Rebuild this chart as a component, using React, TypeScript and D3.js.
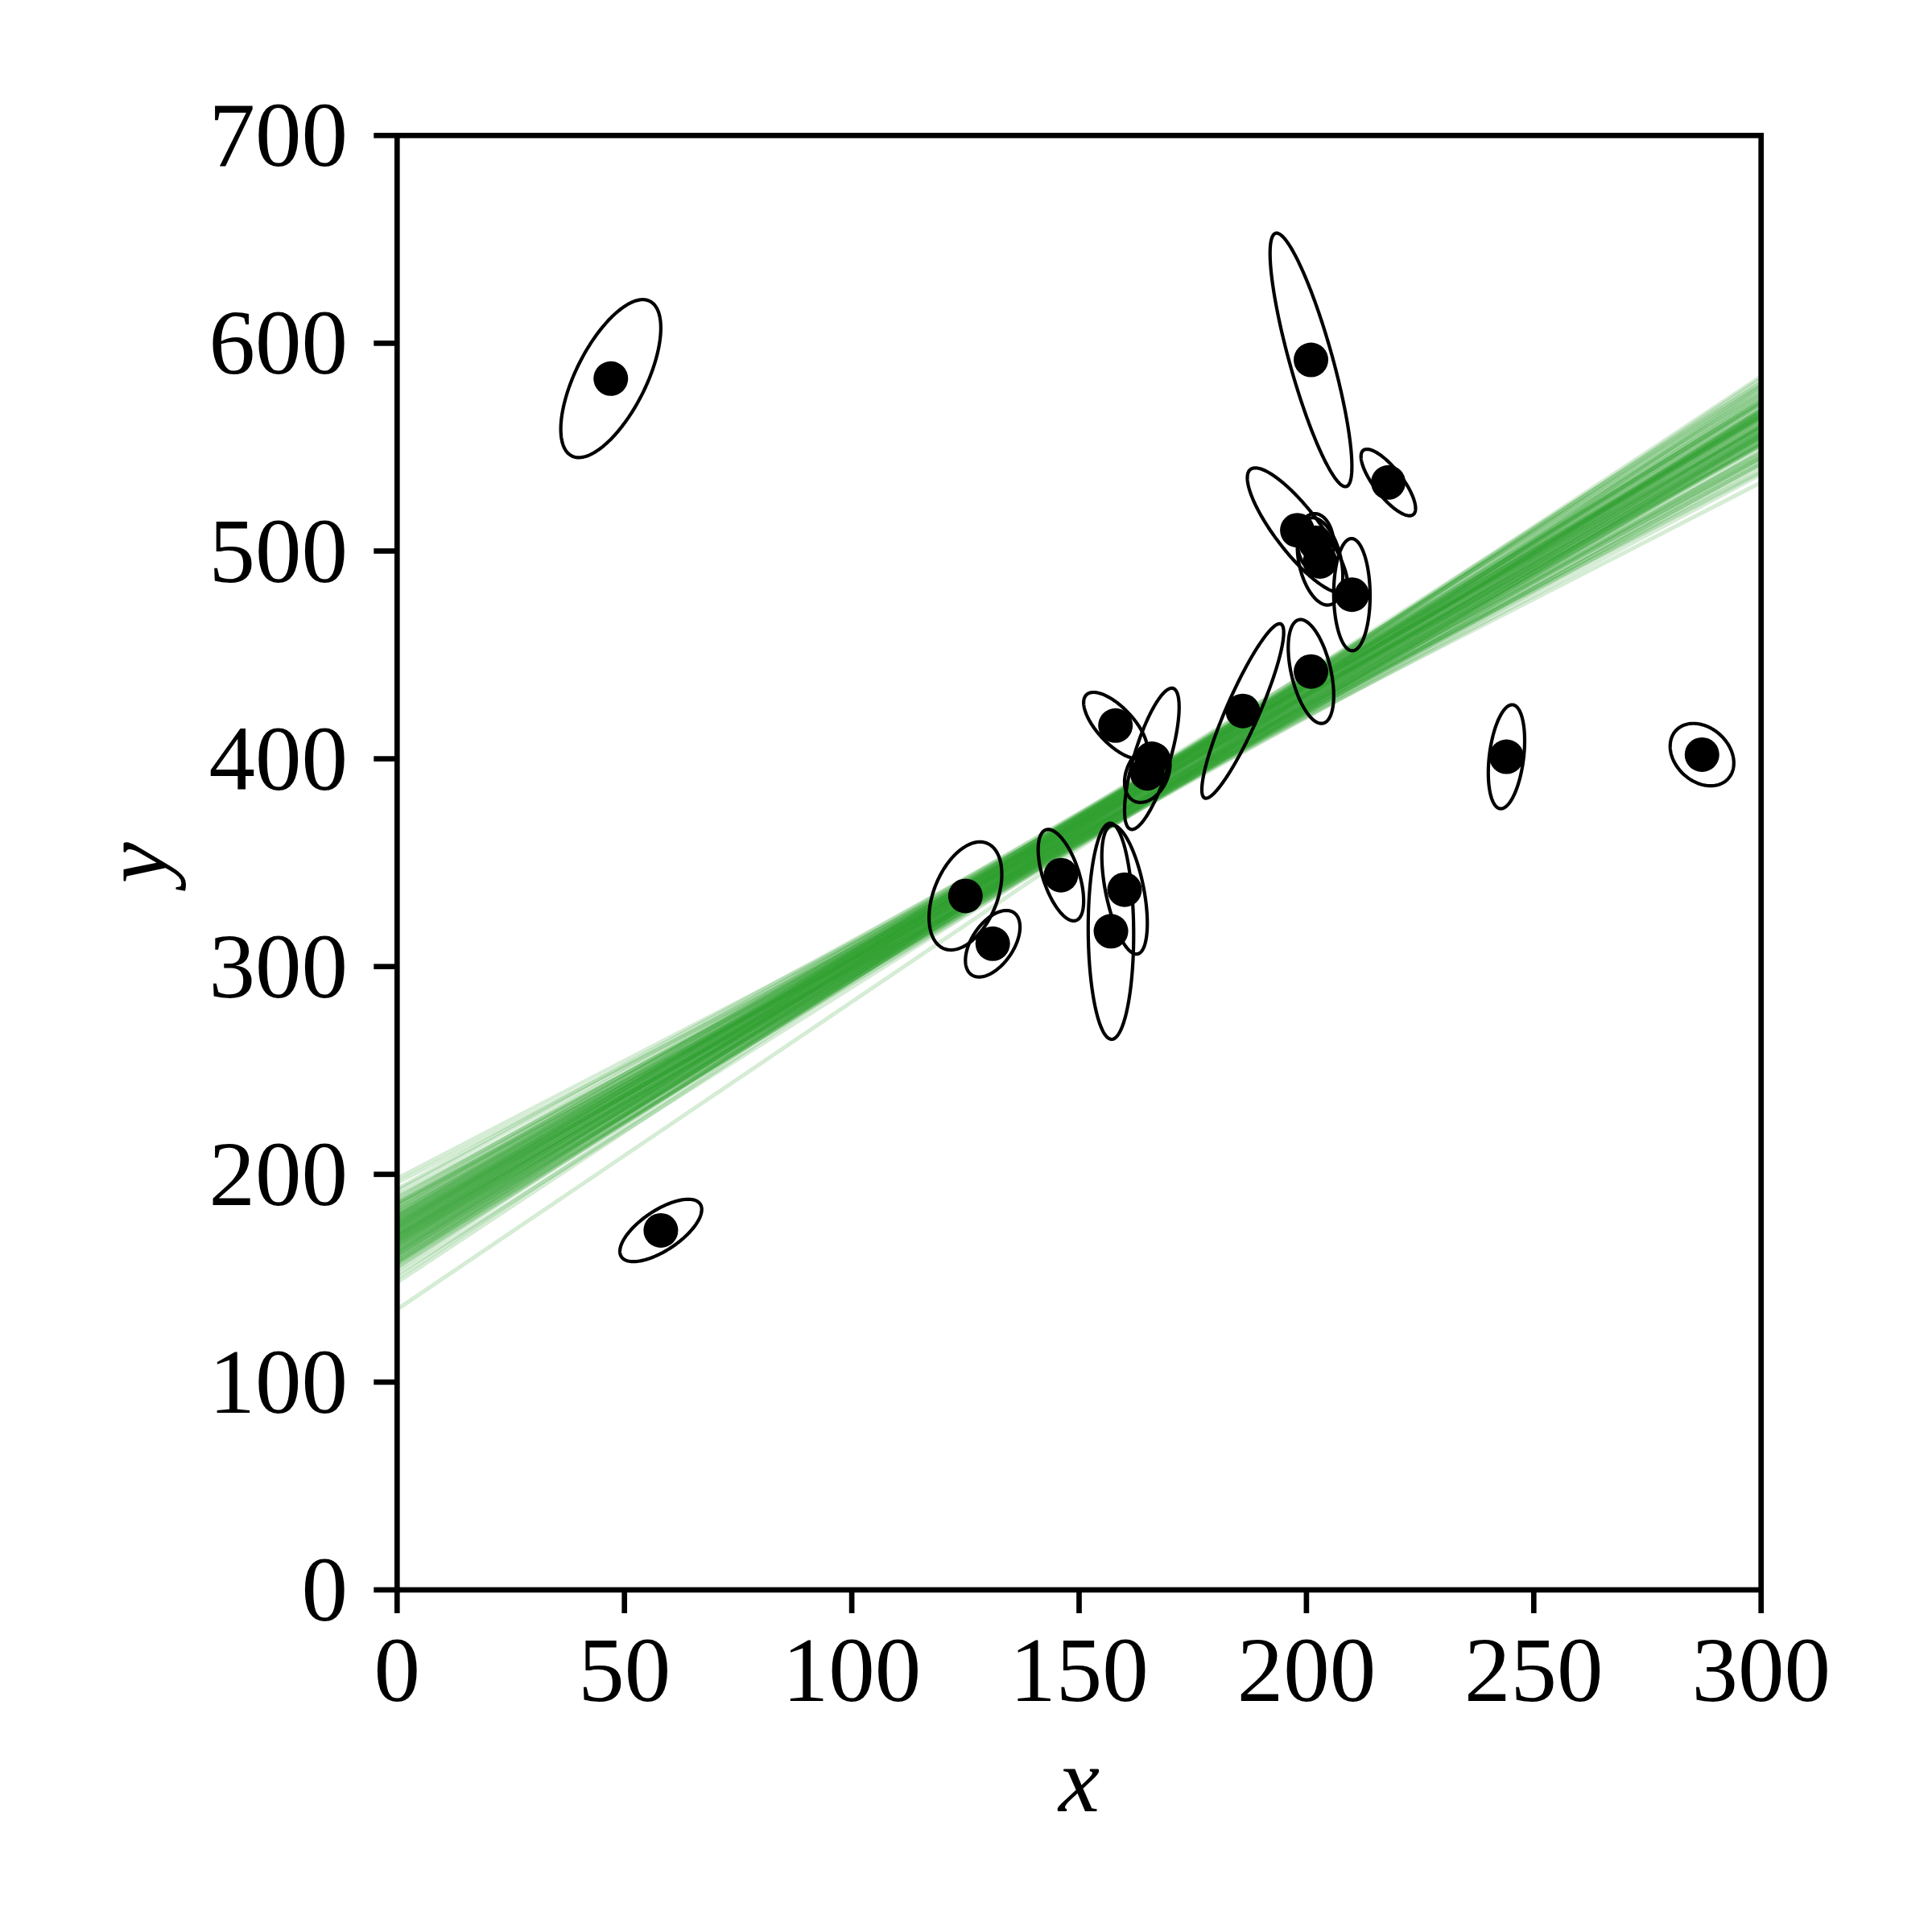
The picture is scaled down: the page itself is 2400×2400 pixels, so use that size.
import React from 'react';
import * as d3 from 'd3';

// Data points (x, y) with uncertainties
const pointX = [201, 244, 47, 287, 203, 58, 210, 202, 198, 158, 165, 201, 157, 131, 166, 160, 186, 125, 218, 146];
const pointY = [592, 401, 583, 402, 495, 173, 479, 504, 510, 416, 393, 442, 317, 311, 400, 337, 423, 334, 533, 344];
const sigmaY = [61, 25, 38, 15, 21, 15, 27, 14, 30, 16, 14, 25, 52, 16, 34, 31, 42, 26, 16, 22];
const sigmaX = [9, 4, 11, 7, 5, 9, 4, 4, 11, 7, 5, 5, 5, 6, 6, 5, 9, 8, 6, 5];
const rhoXY = [-0.84, 0.31, 0.64, -0.27, -0.33, 0.67, -0.02, -0.05, -0.84, -0.69, 0.30, -0.46, -0.03, 0.50, 0.73, -0.52, 0.90, 0.40, -0.78, -0.56];

// Sampled lines: value at x = 0 and at x = 300
const lineAt0 = [
  172, 165, 180, 158, 176, 169, 185, 162, 174, 190, 168, 177, 155, 171, 183, 166, 179, 160, 173, 188,
  170, 164, 181, 157, 175, 167, 186, 161, 178, 193, 163, 174, 152, 170, 184, 168, 176, 159, 182, 196,
  171, 166, 179, 150, 173, 187, 164, 177, 162, 169, 181, 158, 175, 189, 167, 172, 154, 178, 185, 163,
  176, 170, 198, 160, 174, 183, 165, 171, 180, 156, 168, 177, 186, 161, 173, 148, 179, 166, 170, 135,
  169, 175, 163, 181, 158, 172, 186, 167, 178, 160, 174, 192, 165, 171, 183, 157, 176, 168, 180, 162,
];
const lineAt300 = [
  568, 555, 566, 564, 545, 572, 555, 581, 555, 539, 549, 565, 574, 576, 542, 567, 562, 556, 560, 559,
  554, 572, 551, 580, 571, 555, 537, 566, 541, 551, 555, 570, 566, 565, 560, 575, 557, 574, 547, 533,
  556, 578, 544, 584, 565, 552, 553, 559, 563, 561, 564, 561, 551, 545, 571, 548, 577, 557, 542, 576,
  564, 551, 538, 571, 557, 565, 560, 567, 546, 568, 565, 543, 559, 579, 553, 583, 557, 557, 573, 579,
  556, 563, 568, 561, 581, 563, 545, 552, 565, 567, 568, 547, 572, 552, 554, 567, 569, 560, 558, 559,
];

const xTicks = [0, 50, 100, 150, 200, 250, 300];
const yTicks = [0, 100, 200, 300, 400, 500, 600, 700];

const W = 2400;
const H = 2400;
const left = 493.3;
const right = 2187.7;
const top = 168.3;
const bottom = 1975;
const FONT = "'Liberation Serif', 'DejaVu Serif', serif";

export default function App() {
  const x = d3.scaleLinear().domain([0, 300]).range([left, right]);
  const y = d3.scaleLinear().domain([0, 700]).range([bottom, top]);

  const linePath = d3
    .line<[number, number]>()
    .x((d) => x(d[0]))
    .y((d) => y(d[1]));

  const ellipsePath = d3
    .line<[number, number]>()
    .x((d) => x(d[0]))
    .y((d) => y(d[1]))
    .curve(d3.curveLinearClosed);

  const ellipses = pointX.map((mx, i) => {
    const sx = sigmaX[i];
    const sy = sigmaY[i];
    const r = rhoXY[i];
    const pts: [number, number][] = d3.range(240).map((k) => {
      const t = (k / 240) * 2 * Math.PI;
      const c = Math.cos(t);
      const s = Math.sin(t);
      return [mx + sx * c, pointY[i] + sy * (r * c + Math.sqrt(1 - r * r) * s)];
    });
    return ellipsePath(pts) as string;
  });

  const tickLen = 29;
  const spineW = 6.67;

  return (
    <svg
      width={W}
      height={H}
      viewBox={`0 0 ${W} ${H}`}
      style={{ position: 'absolute', left: 0, top: 0, display: 'block', background: '#fff' }}
    >
      <rect x={0} y={0} width={W} height={H} fill="#fff" />
      <defs>
        <clipPath id="plotclip">
          <rect x={left} y={top} width={right - left} height={bottom - top} />
        </clipPath>
      </defs>
      <g clipPath="url(#plotclip)">
        {lineAt0.map((b, i) => (
          <path
            key={`l${i}`}
            d={linePath([
              [0, b],
              [300, lineAt300[i]],
            ]) as string}
            fill="none"
            stroke="#2ca02c"
            strokeOpacity={0.2}
            strokeWidth={5}
          />
        ))}
      </g>
      {ellipses.map((d, i) => (
        <path key={`e${i}`} d={d} fill="none" stroke="#000" strokeWidth={4.2} />
      ))}
      {pointX.map((px, i) => (
        <circle key={`p${i}`} cx={x(px)} cy={y(pointY[i])} r={21.5} fill="#000" />
      ))}
      {/* spines */}
      <rect
        x={left}
        y={top}
        width={right - left}
        height={bottom - top}
        fill="none"
        stroke="#000"
        strokeWidth={spineW}
        strokeLinejoin="miter"
        strokeLinecap="square"
      />
      {/* x ticks */}
      {xTicks.map((t) => (
        <g key={`xt${t}`}>
          <line x1={x(t)} x2={x(t)} y1={bottom} y2={bottom + tickLen} stroke="#000" strokeWidth={spineW} />
          <text x={x(t)} y={2113} textAnchor="middle" fontFamily={FONT} fontSize={115} fill="#000">
            {t}
          </text>
        </g>
      ))}
      {/* y ticks */}
      {yTicks.map((t) => (
        <g key={`yt${t}`}>
          <line x1={left} x2={left - tickLen} y1={y(t)} y2={y(t)} stroke="#000" strokeWidth={spineW} />
          <text x={432} y={y(t) + 38} textAnchor="end" fontFamily={FONT} fontSize={115} fill="#000">
            {t}
          </text>
        </g>
      ))}
      <text
        x={(left + right) / 2}
        y={2250}
        textAnchor="middle"
        fontFamily={FONT}
        fontStyle="italic"
        fontSize={115}
        fill="#000"
      >
        x
      </text>
      <text
        transform={`translate(207, ${(top + bottom) / 2}) rotate(-90)`}
        textAnchor="middle"
        fontFamily={FONT}
        fontStyle="italic"
        fontSize={115}
        fill="#000"
      >
        y
      </text>
    </svg>
  );
}
